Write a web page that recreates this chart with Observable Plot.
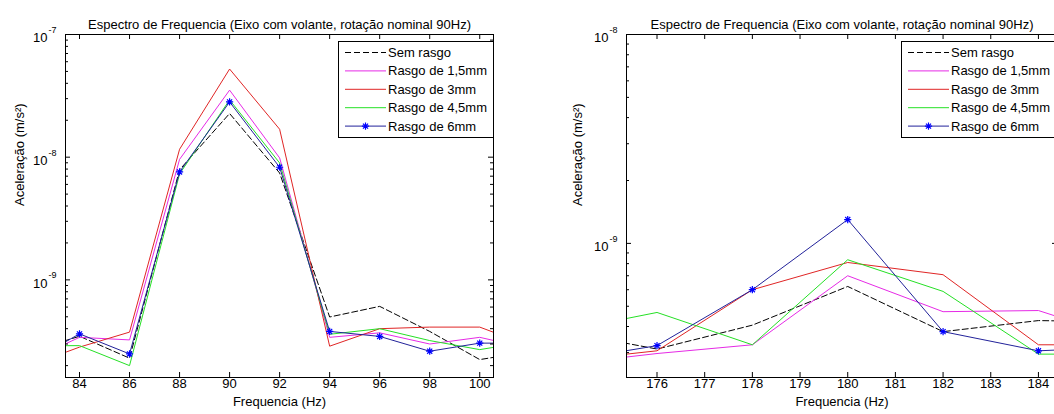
<!DOCTYPE html>
<html><head><meta charset="utf-8">
<script src="https://cdn.jsdelivr.net/npm/d3@7"></script>
<script src="https://cdn.jsdelivr.net/npm/@observablehq/plot@0.6"></script>
<style>
html,body{margin:0;padding:0;background:#fff;overflow:hidden;width:1054px;height:414px;}
#wrap{position:relative;width:1054px;height:414px;overflow:hidden;}
#wrap svg{font-family:"Liberation Sans",Arial,sans-serif;}
.panel{position:absolute;top:0;}
.legend{position:absolute;}
</style></head><body><div id="wrap"></div>
<script>
const seriesNames = ["Sem rasgo","Rasgo de 1,5mm","Rasgo de 3mm","Rasgo de 4,5mm","Rasgo de 6mm"];
const seriesColors = ["#000000","#e62ae6","#e02525","#25e025","#22229a"];
const seriesDash = ["6,3",null,null,null,null];
const markerColor = "#0000ff";
const titleText = "Espectro de Frequencia (Eixo com volante, rotação nominal 90Hz)";
const xLabel = "Frequencia (Hz)";
const yLabel = "Aceleração (m/s²)";

// Left panel (around 90 Hz)
const freqLeft = [82, 84, 86, 88, 90, 92, 94, 96, 98, 100, 102];
const xTicksLeft = [84, 86, 88, 90, 92, 94, 96, 98, 100];
const semRasgoLeft = [2.6e-10, 3.47e-10, 2.30e-10, 7.9e-9, 2.27e-8, 7.43e-9, 4.98e-10, 6.08e-10, 3.8e-10, 2.24e-10, 2.6e-10];
const rasgo15Left  = [2.2e-10, 3.4e-10, 3.24e-10, 9.6e-9, 3.52e-8, 9.86e-9, 3.4e-10, 3.7e-10, 3.0e-10, 3.4e-10, 2.75e-10];
const rasgo3Left   = [2.0e-10, 2.83e-10, 3.75e-10, 1.16e-8, 5.23e-8, 1.69e-8, 2.88e-10, 4.0e-10, 4.12e-10, 4.12e-10, 2.9e-10];
const rasgo45Left  = [2.9e-10, 2.91e-10, 2.0e-10, 7.3e-9, 2.93e-8, 8.97e-9, 3.6e-10, 4.0e-10, 3.2e-10, 2.7e-10, 3.15e-10];
const rasgo6Left   = [2.13e-10, 3.63e-10, 2.49e-10, 7.58e-9, 2.82e-8, 8.28e-9, 3.8e-10, 3.46e-10, 2.62e-10, 3.05e-10, 3.05e-10];

// Right panel (around 180 Hz)
const freqRight = [174, 176, 178, 180, 182, 184, 186];
const xTicksRight = [176, 177, 178, 179, 180, 181, 182, 183, 184];
const semRasgoRight = [3.8e-10, 3.12e-10, 4.06e-10, 6.22e-10, 3.78e-10, 4.27e-10, 4.2e-10];
const rasgo15Right  = [2.63e-10, 2.97e-10, 3.27e-10, 7.0e-10, 4.71e-10, 4.77e-10, 3.4e-10];
const rasgo3Right   = [2.73e-10, 3.06e-10, 6.0e-10, 8.1e-10, 7.08e-10, 3.27e-10, 3.27e-10];
const rasgo45Right  = [3.79e-10, 4.67e-10, 3.27e-10, 8.35e-10, 5.89e-10, 2.95e-10, 2.95e-10];
const rasgo6Right   = [2.72e-10, 3.24e-10, 6.0e-10, 1.30e-9, 3.78e-10, 3.06e-10, 3.2e-10];

const star8 = {
  draw(ctx, size) {
    const r = Math.sqrt(size / Math.PI), d = r * Math.SQRT1_2;
    ctx.moveTo(-r, 0); ctx.lineTo(r, 0);
    ctx.moveTo(0, -r); ctx.lineTo(0, r);
    ctx.moveTo(-d, -d); ctx.lineTo(d, d);
    ctx.moveTo(-d, d); ctx.lineTo(d, -d);
  }
};
const starR = 3.6;

function panel(cfg) {
  const H = 414, mt = 34, mb = 37;
  const innerH = H - mt - mb, innerW = cfg.width - cfg.marginLeft - cfg.marginRight;
  const allTicks = d3.scaleLog().domain(cfg.yDomain).ticks();
  const yMajor = allTicks.filter(d => Math.abs(Math.log10(d) - Math.round(Math.log10(d))) < 1e-6);
  const yMinor = allTicks.filter(d => !yMajor.includes(d));
  const lineMarks = cfg.values.map((vals, si) => {
    const rows = vals.map((v, i) => ({f: cfg.freqs[i], a: v}));
    return Plot.line(rows, {x: "f", y: "a", stroke: seriesColors[si], strokeWidth: 1,
      strokeDasharray: seriesDash[si] || undefined, clip: true});
  });
  const blueRows = cfg.values[4].map((v, i) => ({f: cfg.freqs[i], a: v}));
  return Plot.plot({
    width: cfg.width, height: H, marginTop: mt, marginBottom: mb,
    marginLeft: cfg.marginLeft, marginRight: cfg.marginRight,
    x: {domain: cfg.xDomain, axis: null},
    y: {type: "log", domain: cfg.yDomain, axis: null},
    style: {fontSize: "13px", color: "#000", background: "transparent", overflow: "visible",
      fontFamily: '"Liberation Sans", Arial, sans-serif'},
    marks: [
      ...lineMarks,
      Plot.dot(blueRows, {x: "f", y: "a", symbol: star8, r: starR, stroke: markerColor, strokeWidth: 1.2, fill: "none", clip: true}),
      Plot.frame({stroke: "#000", strokeWidth: 1}),
      Plot.tickX(cfg.xTicks, {x: d => d, insetTop: innerH - 5, stroke: "#000"}),
      Plot.tickX(cfg.xTicks, {x: d => d, insetBottom: innerH - 5, stroke: "#000"}),
      Plot.tickY(yMajor, {y: d => d, insetRight: innerW - 5, stroke: "#000"}),
      Plot.tickY(yMajor, {y: d => d, insetLeft: innerW - 5, stroke: "#000"}),
      Plot.tickY(yMinor, {y: d => d, insetRight: innerW - 3, stroke: "#000"}),
      Plot.tickY(yMinor, {y: d => d, insetLeft: innerW - 3, stroke: "#000"}),
      Plot.text(cfg.xTicks, {x: d => d, frameAnchor: "bottom", dy: 10, text: d => String(d), fill: "#000"}),
      Plot.text(yMajor, {y: d => d, frameAnchor: "left", dx: -18, dy: 3.5, textAnchor: "end", text: () => "10", fill: "#000"}),
      Plot.text(yMajor, {y: d => d, frameAnchor: "left", dx: -17, dy: -4.5, textAnchor: "start", fontSize: 9,
        text: d => String(Math.round(Math.log10(d))), fill: "#000"}),
      Plot.text([titleText], {frameAnchor: "top", dy: -15, text: d => d, fill: "#000"}),
      Plot.text([xLabel], {frameAnchor: "bottom", dy: 28, text: d => d, fill: "#000"}),
      Plot.text([yLabel], {frameAnchor: "left", dx: cfg.yLabelDx, rotate: -90, text: d => d, fill: "#000"})
    ]
  });
}

function legend(left, top) {
  const w = 155, h = 96;
  const svg = d3.create("svg").attr("class", "legend").attr("width", w + 1).attr("height", h + 1)
    .style("left", left + "px").style("top", top + "px");
  svg.append("rect").attr("x", 0.5).attr("y", 0.5).attr("width", w).attr("height", h)
    .attr("fill", "#fff").attr("stroke", "#000");
  seriesNames.forEach((name, i) => {
    const y = 11.5 + i * 18.4;
    svg.append("line").attr("x1", 7).attr("x2", 48).attr("y1", y).attr("y2", y)
      .attr("stroke", seriesColors[i]).attr("stroke-dasharray", seriesDash[i]);
    if (i === 4) {
      svg.append("path").attr("transform", `translate(27.5,${y})`)
        .attr("d", d3.symbol(star8, Math.PI * starR * starR)()).attr("stroke", markerColor)
        .attr("stroke-width", 1.2).attr("fill", "none");
    }
    svg.append("text").attr("x", 50).attr("y", y).attr("dy", "0.35em").attr("font-size", 13)
      .attr("fill", "#000").text(name);
  });
  return svg.node();
}

const wrap = document.getElementById("wrap");
const left = panel({
  freqs: freqLeft, values: [semRasgoLeft, rasgo15Left, rasgo3Left, rasgo45Left, rasgo6Left],
  xTicks: xTicksLeft, xDomain: [83.44, 100.55], yDomain: [1.6e-10, 1e-7],
  width: 523, marginLeft: 65, marginRight: 30, yLabelDx: -46
});
left.classList.add("panel"); left.style.left = "0px";
wrap.appendChild(left);
const right = panel({
  freqs: freqRight, values: [semRasgoRight, rasgo15Right, rasgo3Right, rasgo45Right, rasgo6Right],
  xTicks: xTicksRight, xDomain: [175.36, 184.40], yDomain: [2.28e-10, 1e-8],
  width: 527, marginLeft: 96, marginRight: 0, yLabelDx: -49
});
right.classList.add("panel"); right.style.left = "530px";
wrap.appendChild(right);
wrap.appendChild(legend(338, 41));
wrap.appendChild(legend(901, 41));
</script></body></html>
